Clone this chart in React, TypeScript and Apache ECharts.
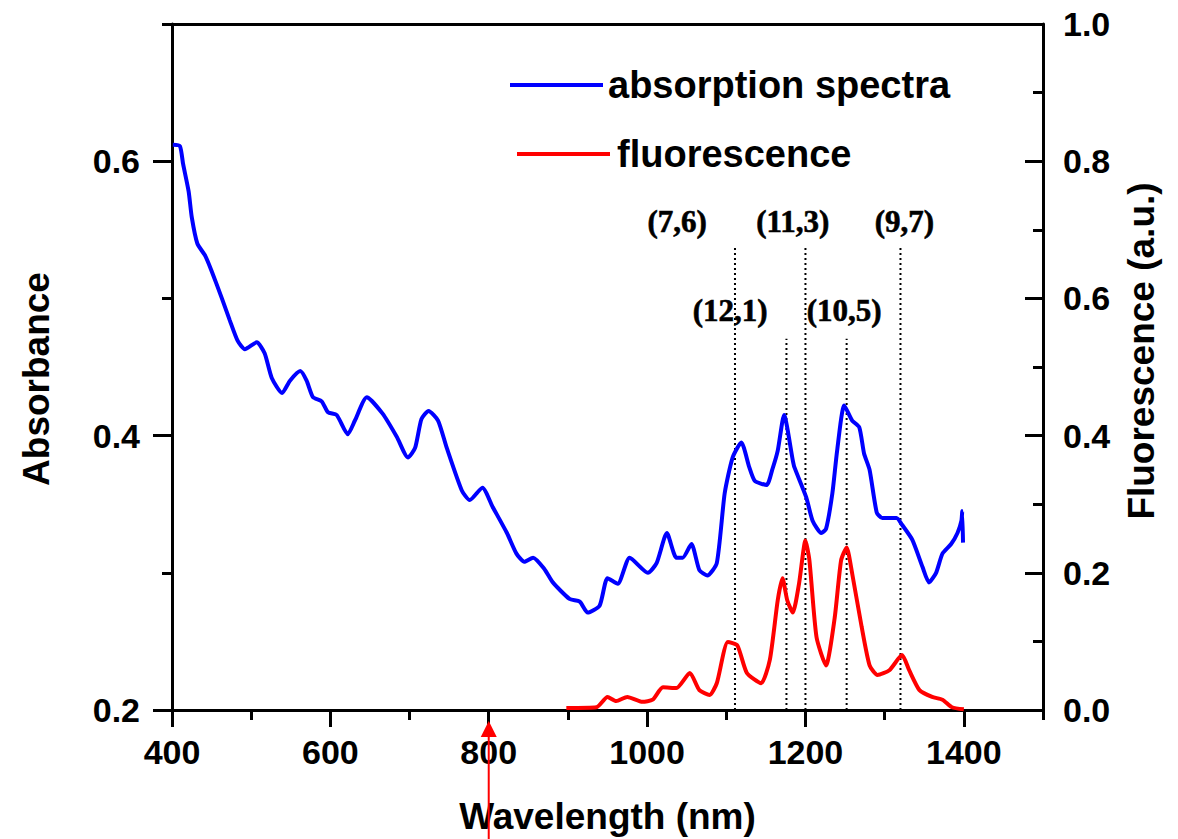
import React, { useEffect, useRef } from "react";
import * as echarts from "echarts";

// ---- data ----
const ABS_WL = [401, 410, 414, 421, 425, 432, 442, 450, 463, 473, 483, 492, 507, 517, 526, 539, 549, 562, 570, 578, 589, 597, 608, 622, 631, 646, 666, 684, 698, 707, 715, 724, 736, 747, 766, 776, 792, 805, 823, 835, 845, 856, 870, 881, 902, 915, 925, 940, 950, 963, 978, 1001, 1012, 1025, 1037, 1045, 1056, 1066, 1076, 1088, 1098, 1108, 1119, 1129, 1136, 1151, 1158, 1165, 1173, 1184, 1186, 1201, 1209, 1220, 1226, 1234, 1240, 1249, 1259, 1268, 1274, 1281, 1290, 1297, 1315, 1322, 1335, 1348, 1356, 1365, 1373, 1384, 1392, 1397, 1398, 1399];
const ABS_VAL = [0.612, 0.611, 0.598, 0.578, 0.559, 0.540, 0.531, 0.520, 0.500, 0.484, 0.469, 0.463, 0.468, 0.460, 0.442, 0.431, 0.440, 0.447, 0.440, 0.428, 0.425, 0.417, 0.415, 0.401, 0.411, 0.428, 0.416, 0.399, 0.384, 0.391, 0.412, 0.418, 0.411, 0.391, 0.360, 0.353, 0.362, 0.348, 0.329, 0.314, 0.308, 0.311, 0.303, 0.293, 0.281, 0.279, 0.271, 0.276, 0.296, 0.292, 0.311, 0.300, 0.307, 0.329, 0.311, 0.311, 0.321, 0.302, 0.298, 0.307, 0.358, 0.384, 0.395, 0.377, 0.367, 0.364, 0.375, 0.389, 0.415, 0.382, 0.377, 0.355, 0.338, 0.329, 0.332, 0.358, 0.389, 0.422, 0.411, 0.406, 0.387, 0.375, 0.344, 0.340, 0.340, 0.335, 0.324, 0.304, 0.293, 0.300, 0.314, 0.321, 0.329, 0.338, 0.345, 0.322];

const FL_WL = [898, 936, 950, 961, 975, 994, 1007, 1020, 1037, 1054, 1066, 1079, 1088, 1102, 1114, 1126, 1144, 1155, 1165, 1171, 1177, 1184, 1192, 1200, 1205, 1214, 1226, 1237, 1245, 1252, 1259, 1271, 1281, 1291, 1306, 1322, 1331, 1344, 1360, 1373, 1385, 1400];
const FL_VAL = [0.003, 0.004, 0.019, 0.013, 0.019, 0.012, 0.015, 0.033, 0.032, 0.054, 0.029, 0.022, 0.039, 0.099, 0.094, 0.054, 0.039, 0.073, 0.160, 0.192, 0.160, 0.142, 0.185, 0.247, 0.218, 0.106, 0.065, 0.135, 0.218, 0.237, 0.199, 0.121, 0.065, 0.051, 0.058, 0.080, 0.058, 0.029, 0.019, 0.015, 0.004, 0.001];

// dotted marker lines (wavelength, top in fluorescence units)
const DOT_WL = [1111, 1176, 1200, 1252, 1320];
const DOT_TOP = [0.676, 0.541, 0.676, 0.541, 0.676];

// chirality labels
const CHIRAL_NAMES = ["(7,6)", "(12,1)", "(11,3)", "(10,5)", "(9,7)"];
const CHIRAL_WL = [1038, 1105, 1184, 1249, 1325];
const CHIRAL_Y = [0.712, 0.583, 0.712, 0.583, 0.712];

const X_MAJOR = [400, 600, 800, 1000, 1200, 1400];
const Y_LEFT_MAJOR = [0.2, 0.4, 0.6];
const EXCITATION_WL = 800;

const SANS = 'Arial, "Liberation Sans", sans-serif';
const SERIF = '"Times New Roman", "Liberation Serif", serif';

export default function App() {
  const ref = useRef<HTMLDivElement>(null);
  useEffect(() => {
    if (!ref.current) return;
    const chart = echarts.init(ref.current, undefined, { renderer: "svg" });
    const black = "#000";
    const axisLine = { show: true, onZero: false, lineStyle: { color: black, width: 3 } };
    const tickFont = { fontFamily: SANS, fontWeight: "bold" as const, fontSize: 34, color: black };
    const nameFont = { fontFamily: SANS, fontWeight: "bold" as const, fontSize: 37, color: black };

    const dotSeries = DOT_WL.map((w, i) => ({
      type: "line",
      xAxisIndex: 0,
      yAxisIndex: 2,
      data: [[w, 0], [w, DOT_TOP[i]]],
      symbol: "none",
      silent: true,
      lineStyle: { color: black, width: 2, type: [2, 3] },
      z: 1,
    }));

    const option: any = {
      animation: false,
      backgroundColor: "#fff",
      grid: { left: 172, right: 135, top: 24, bottom: 129, containLabel: false, outerBoundsMode: "none" },
      legend: [
        {
          data: ["absorption spectra"],
          left: 505,
          top: 61,
          itemWidth: 93,
          itemHeight: 14,
          icon: "path://M0,6 L93,6 L93,10 L0,10 Z",
          textStyle: { fontFamily: SANS, fontWeight: "bold", fontSize: 38, color: black },
        },
        {
          data: ["fluorescence"],
          left: 512,
          top: 130,
          itemWidth: 93,
          itemHeight: 14,
          icon: "path://M0,6 L93,6 L93,10 L0,10 Z",
          textStyle: { fontFamily: SANS, fontWeight: "bold", fontSize: 38, color: black, padding: [0, 0, 0, 2] },
        },
      ],
      xAxis: [
        {
          type: "value",
          position: "bottom",
          min: 400,
          max: 1500,
          interval: 100,
          axisLine,
          axisTick: { show: true, length: 10, lineStyle: { color: black, width: 3 } },
          axisLabel: {
            ...tickFont,
            margin: 25,
            formatter: (v: number) => (X_MAJOR.indexOf(Math.round(v)) >= 0 ? String(Math.round(v)) : ""),
          },
          splitLine: { show: false },
          name: "Wavelength (nm)",
          nameLocation: "middle",
          nameGap: 88,
          nameTextStyle: nameFont,
        },
        {
          type: "value",
          position: "bottom",
          min: 400,
          max: 1500,
          interval: 200,
          axisLine: { show: false, onZero: false },
          axisTick: { show: true, length: 17, customValues: X_MAJOR, lineStyle: { color: black, width: 3 } },
          axisLabel: { show: false },
          splitLine: { show: false },
        },
        {
          type: "value",
          position: "top",
          min: 400,
          max: 1500,
          axisLine,
          axisTick: { show: false },
          axisLabel: { show: false },
          splitLine: { show: false },
        },
      ],
      yAxis: [
        {
          type: "value",
          position: "left",
          min: 0.2,
          max: 0.7,
          interval: 0.1,
          axisLine,
          axisTick: { show: true, length: 10, lineStyle: { color: black, width: 3 } },
          axisLabel: {
            ...tickFont,
            margin: 32,
            formatter: (v: number) => {
              const r = Math.round(v * 10);
              return r % 2 === 0 ? (r / 10).toFixed(1) : "";
            },
          },
          splitLine: { show: false },
          name: "Absorbance",
          nameLocation: "middle",
          nameGap: 117,
          nameTextStyle: { ...nameFont, padding: [0, 24, 0, 0] },
        },
        {
          type: "value",
          position: "left",
          min: 0.2,
          max: 0.7,
          interval: 0.1,
          axisLine: { show: false, onZero: false },
          axisTick: { show: true, length: 19, customValues: Y_LEFT_MAJOR, lineStyle: { color: black, width: 3 } },
          axisLabel: { show: false },
          splitLine: { show: false },
        },
        {
          type: "value",
          position: "right",
          min: 0,
          max: 1,
          interval: 0.2,
          axisLine,
          axisTick: { show: true, inside: true, length: 18, lineStyle: { color: black, width: 3 } },
          minorTick: { show: true, splitNumber: 2, length: 10, lineStyle: { color: black, width: 3 } },
          axisLabel: { ...tickFont, margin: 20, formatter: (v: number) => v.toFixed(1) },
          splitLine: { show: false },
          minorSplitLine: { show: false },
          name: "Fluorescence (a.u.)",
          nameLocation: "middle",
          nameGap: 80,
          nameTextStyle: { ...nameFont, padding: [0, 0, 0, 32] },
        },
      ],
      series: [
        {
          name: "absorption spectra",
          type: "line",
          xAxisIndex: 0,
          yAxisIndex: 0,
          data: ABS_WL.map((w, i) => [w, ABS_VAL[i]]),
          symbol: "none",
          smooth: 0.2,
          color: "#0000ff",
          lineStyle: { color: "#0000ff", width: 4 },
          z: 3,
        },
        {
          name: "fluorescence",
          type: "line",
          xAxisIndex: 0,
          yAxisIndex: 2,
          data: FL_WL.map((w, i) => [w, FL_VAL[i]]),
          symbol: "none",
          smooth: 0.2,
          color: "#ff0000",
          lineStyle: { color: "#ff0000", width: 4 },
          z: 3,
        },
        ...dotSeries,
      ],
    };
    chart.setOption(option);

    const px = chart.convertToPixel({ xAxisIndex: 0 }, EXCITATION_WL) as number;
    const labelGraphics = CHIRAL_NAMES.map((n, i) => {
      const p = chart.convertToPixel({ xAxisIndex: 0, yAxisIndex: 2 }, [CHIRAL_WL[i], CHIRAL_Y[i]]) as number[];
      return {
        type: "text",
        x: p[0],
        y: p[1],
        z: 10,
        style: {
          text: n,
          fill: "#000",
          stroke: "#000",
          lineWidth: 0.6,
          font: `bold 31px ${SERIF}`,
          align: "center",
          verticalAlign: "middle",
        },
      };
    });
    chart.setOption({
      graphic: [
        {
          type: "line",
          shape: { x1: px, y1: 734, x2: px, y2: 839 },
          style: { stroke: "#ff0000", lineWidth: 2 },
          z: 10,
        },
        {
          type: "polygon",
          shape: { points: [[px, 721], [px - 8, 737], [px + 8, 737]] },
          style: { fill: "#ff0000" },
          z: 10,
        },
        ...labelGraphics,
      ],
    });

    return () => chart.dispose();
  }, []);

  return (
    <div
      ref={ref}
      style={{ position: "fixed", left: 0, top: 0, width: 1178, height: 839, background: "#fff" }}
    />
  );
}
